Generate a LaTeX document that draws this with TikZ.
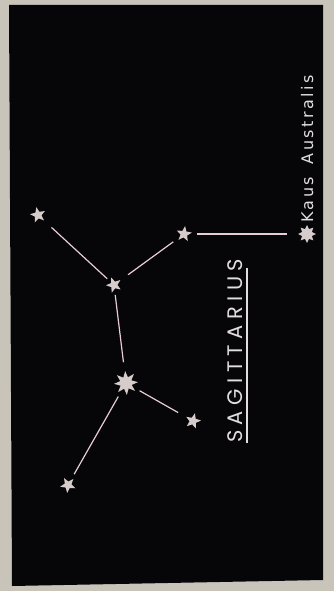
\documentclass[tikz,border=0pt]{standalone}
\usepackage{fontspec}
\newfontfamily\titlefont[LetterSpace=26]{Poppins}
\newfontfamily\namefont[LetterSpace=15]{DejaVu Sans}
\usepackage{tikz}
\usetikzlibrary{shapes.geometric,positioning,calc}
\definecolor{mount}{RGB}{200,196,186}
\definecolor{skyblack}{RGB}{6,6,8}
\definecolor{starpink}{RGB}{214,204,204}
\definecolor{linepink}{RGB}{234,204,214}
\definecolor{inkwhite}{RGB}{226,222,222}
\tikzset{
  starnode/.style={star, star points=5, star point ratio=2.3, minimum size=16pt, inner sep=0pt, outer sep=4pt, fill=starpink},
  brightstar/.style={starnode, star points=8, star point ratio=1.7, minimum size=18pt, outer sep=5pt},
  mainstar/.style={starnode, star points=8, star point ratio=2.0, minimum size=24pt},
  link/.style={draw=linepink, line width=1.2pt},
  rule/.style={draw=inkwhite, line width=1.2pt},
  title/.style={text=inkwhite, font=\titlefont\fontsize{21}{21}\selectfont, rotate=90, inner sep=0pt},
  starname/.style={text=inkwhite, font=\namefont\fontsize{16}{16}\selectfont, rotate=90, inner sep=0pt},
}

\begin{document}
\begin{tikzpicture}[x=1pt, y=-1pt]
  % Mount and sky
  \fill[mount] (0,0) rectangle (334,591);
  \fill[skyblack] (9,5) -- (323,5) -- (323,580) -- (12,586) -- cycle;

  % Stars
  \node[starnode, shape border rotate=12] (sNW) at (38,215) {};
  \node[starnode, shape border rotate=-8] (sNE) at (184,234) {};
  \node[brightstar] (kaus) at (307,234) {};
  \node[starnode, shape border rotate=20] (sMid) at (114,285) {};
  \node[mainstar, shape border rotate=4] (sHub) at (126,383) {};
  \node[starnode, shape border rotate=-14] (sSE) at (193,421) {};
  \node[starnode, shape border rotate=30] (sSW) at (68,485) {};

  % Lines
  \draw[link] (sNW) -- (sMid);
  \draw[link] (sMid) -- (sNE);
  \draw[link] (sNE) -- (kaus);
  \draw[link] (sMid) -- (sHub);
  \draw[link] (sHub) -- (sSE);
  \draw[link] (sHub) -- (sSW);

  % Labels
  \node[starname, anchor=base west] (kauslabel) at ($(kaus)+(6,-11)$) {Kaus\hspace{13pt}Australis};
  \node[title, anchor=base west] (sagtitle) at (242,443) {SAGITTARIUS};
  \draw[rule] ($(sagtitle.base west)+(5,0)$) -- ($(sagtitle.base east)+(5,9)$);

\end{tikzpicture}
\end{document}
